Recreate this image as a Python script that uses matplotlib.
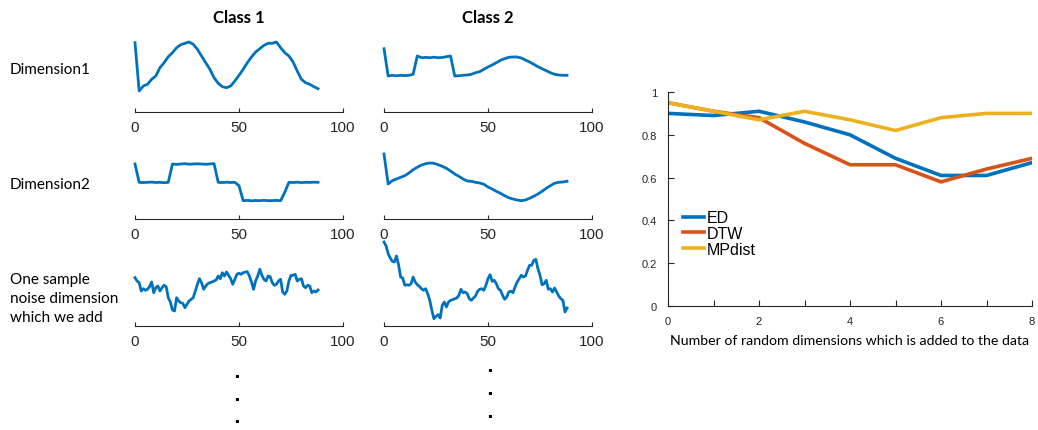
import matplotlib
matplotlib.use("Agg")
import matplotlib.pyplot as plt
import numpy as np

# --- left: example series (height units, sampled every 2 steps / every step for noise) ---
x_smooth = np.arange(0, 89, 2)
x_noise = np.arange(0, 89)

class1_dim1 = [69.3, 21, 26, 27.7, 32.7, 36, 44.3, 49.3, 55.3, 59.3, 64.3, 67.3, 68.7, 70, 67.7,
               62.7, 56, 49.3, 42.7, 34.3, 28.7, 25.3, 24.3, 26, 31, 36.7, 42.7, 49.3, 55, 60,
               63.3, 66.7, 68.7, 68.7, 70, 64.3, 59.3, 56, 50, 41, 32.7, 29.3, 27.7, 25.3, 23.3]
class2_dim1 = [63.3, 36, 36.7, 36.2, 36.7, 36.4, 36.7, 37.7, 56, 54.3, 54.6, 54.3, 54.8, 54.3, 54.5,
               55.3, 56, 36, 36.3, 36.7, 37, 37.7, 39.3, 40.3, 42.7, 45, 47, 49.3, 51.7, 53.3,
               54.7, 55, 55, 54, 52, 50, 47.7, 45.3, 43.3, 41.3, 39.3, 37.7, 37, 36.7, 36.7]
class1_dim2 = [55, 36.7, 36.4, 36.7, 36.9, 36.5, 36.7, 36.3, 36.7, 55, 54.6, 55, 55.3, 54.8, 55,
               55.2, 55, 54.7, 55, 55.4, 36.7, 36.4, 36.8, 36.5, 36.7, 33.3, 18.3, 18.6, 18.2, 18.5,
               18.3, 18.7, 18.3, 18.4, 18.6, 18.3, 26.7, 36.7, 36.5, 36.8, 36.4, 36.7, 36.6, 36.8, 36.7]
class2_dim2 = [65, 35, 38.3, 40, 41.7, 43.3, 46, 49.3, 51.7, 54, 55.3, 56, 55.7, 54.3, 52.7,
               50.7, 48, 45, 42.7, 40, 38, 37.7, 36.7, 36, 34.7, 32, 30, 27.7, 25.7, 23.3,
               21.3, 20, 19, 18.3, 19, 20.7, 22.7, 25, 27.7, 30.7, 33.3, 35.7, 36.7, 37, 37.7]
class1_noise = [48.3, 45, 43.3, 35, 37.3, 35.7, 36.7, 39.3, 44, 33.3, 38.3, 40, 35, 38.3, 40.7,
                39.3, 28.3, 24, 16, 15, 28.3, 25, 23.3, 22.7, 18.3, 21.7, 25, 26.7, 28.3, 35,
                41.7, 47.3, 43.3, 36.7, 40, 42.3, 43.3, 44, 45, 46, 50, 47.3, 53.3, 50, 54,
                50.7, 47.3, 41.7, 46.7, 51.7, 52.7, 51.7, 53.3, 54, 54.3, 50, 44, 36.7, 45, 50,
                56.7, 50.7, 46.7, 45, 50, 49.3, 43.3, 40.7, 41.7, 45, 46.7, 34, 31.7, 35, 45,
                50.7, 50.7, 51.7, 45, 46.7, 47.3, 40, 38.3, 40.7, 40, 33.3, 35, 34, 36]
class2_noise = [84, 80, 72.3, 68, 64.7, 64, 70, 61.3, 49, 48, 40.7, 41.3, 40.7, 42.3, 49,
                44, 41.3, 39.7, 37.3, 35.7, 37.3, 32.3, 25.7, 15.7, 7.3, 9.7, 11.3, 8, 20.7, 24,
                19, 24, 25.7, 26.3, 27.3, 28, 30.7, 36.7, 33.3, 34, 32.3, 27.3, 25.7, 28, 30,
                34.7, 36.7, 37.3, 35.7, 40.7, 47.3, 51.3, 44.7, 45.7, 42.3, 37.3, 35.7, 30.7, 26.7, 29,
                34, 34.7, 33.3, 39, 44, 47.3, 50.7, 49, 50, 55.7, 60.7, 60.7, 65.7, 66.7, 57.3,
                50.7, 41.3, 42.3, 45.7, 36.7, 37.3, 34, 38, 34, 30, 27.3, 25.7, 14, 18]

class_titles = ["Class 1", "Class 2"]
row_labels = ["Dimension1", "Dimension2", "One sample\nnoise dimension\nwhich we add"]

# --- right: accuracy vs added random dimensions ---
n_random = np.arange(0, 9)
acc_ed = [0.90, 0.89, 0.91, 0.86, 0.80, 0.69, 0.61, 0.61, 0.67]
acc_dtw = [0.95, 0.91, 0.88, 0.76, 0.66, 0.66, 0.58, 0.64, 0.69]
acc_mpdist = [0.95, 0.91, 0.87, 0.91, 0.87, 0.82, 0.88, 0.90, 0.90]

W, H = 1038, 431
fig = plt.figure(figsize=(W / 100, H / 100), dpi=100)


def box(left, top, right, bottom):
    # pixel box -> figure fraction
    return [left / W, 1 - bottom / H, (right - left) / W, (bottom - top) / H]


blue = "#0072BD"
axcol = "#262626"
tickfont = "Liberation Sans"
textfont = "Lato"

series = [[class1_dim1, class2_dim1], [class1_dim2, class2_dim2], [class1_noise, class2_noise]]
row_base = [113, 220, 327]
col_span = [(135, 343), (384, 592)]

for r in range(3):
    for c in range(2):
        xl, xr = col_span[c]
        ax = fig.add_axes(box(xl, row_base[r] - 85, xr, row_base[r]))
        y = series[r][c]
        xs = x_noise if len(y) == len(x_noise) else x_smooth
        ax.plot(xs, y, color=blue, lw=2.0, clip_on=False)
        ax.set_xlim(0, 100)
        ax.set_ylim(0, 85)
        for s in ["top", "right", "left"]:
            ax.spines[s].set_visible(False)
        ax.spines["bottom"].set_color(axcol)
        ax.spines["bottom"].set_linewidth(0.8)
        ax.set_yticks([])
        ax.set_xticks([0, 50, 100])
        ax.tick_params(axis="x", direction="in", length=3, width=0.8, color=axcol,
                       pad=6, labelsize=11, labelcolor=axcol)
        for lab in ax.get_xticklabels():
            lab.set_fontfamily(tickfont)
        ax.patch.set_visible(False)

for c, title in enumerate(class_titles):
    xl, xr = col_span[c]
    fig.text((xl + xr) / 2 / W, 1 - 18 / H, title, ha="center", va="center",
             fontsize=12, fontweight="bold", family=textfont)

for label, yc in zip(row_labels, [70, 185, 299]):
    fig.text(10 / W, 1 - yc / H, label, ha="left", va="center", fontsize=11,
             family=textfont, linespacing=1.45)

# continuation dots
for xc, ys in [(237, [378, 401, 423]), (490, [372, 395, 418])]:
    for yd in ys:
        fig.text(xc / W, 1 - yd / H, ".", ha="center", va="baseline", fontsize=13,
                 fontweight="bold")

# right chart
ax2 = fig.add_axes(box(668, 93, 1032, 307))
ax2.plot(n_random, acc_ed, color="#0072BD", lw=2.6, label="ED")
ax2.plot(n_random, acc_dtw, color="#D95319", lw=2.6, label="DTW")
ax2.plot(n_random, acc_mpdist, color="#EDB120", lw=2.6, label="MPdist")
ax2.set_xlim(0, 8)
ax2.set_ylim(0, 1)
ax2.set_xticks(n_random)
ax2.set_xticklabels([str(v) if v % 2 == 0 else "" for v in n_random])
ax2.set_yticks([0, 0.2, 0.4, 0.6, 0.8, 1])
ax2.set_yticklabels(["0", "0.2", "0.4", "0.6", "0.8", "1"])
for s in ["top", "right"]:
    ax2.spines[s].set_visible(False)
for s in ["left", "bottom"]:
    ax2.spines[s].set_color(axcol)
    ax2.spines[s].set_linewidth(0.8)
ax2.tick_params(direction="in", length=4, width=0.8, color=axcol, labelsize=8,
                labelcolor=axcol)
ax2.tick_params(axis="x", pad=7)
ax2.tick_params(axis="y", pad=8)
for lab in ax2.get_xticklabels() + ax2.get_yticklabels():
    lab.set_fontfamily(tickfont)
ax2.set_xlabel("Number of random dimensions which is added to the data",
               family=textfont, fontsize=10.2, labelpad=6)
ax2.legend(loc="upper left", bbox_to_anchor=(0.02, 0.485), frameon=False,
           handlelength=1.3, handletextpad=0.2, labelspacing=0.05, borderpad=0,
           prop={"family": tickfont, "size": 11.5})
ax2.patch.set_visible(False)

fig.savefig("out.png", dpi=100)
